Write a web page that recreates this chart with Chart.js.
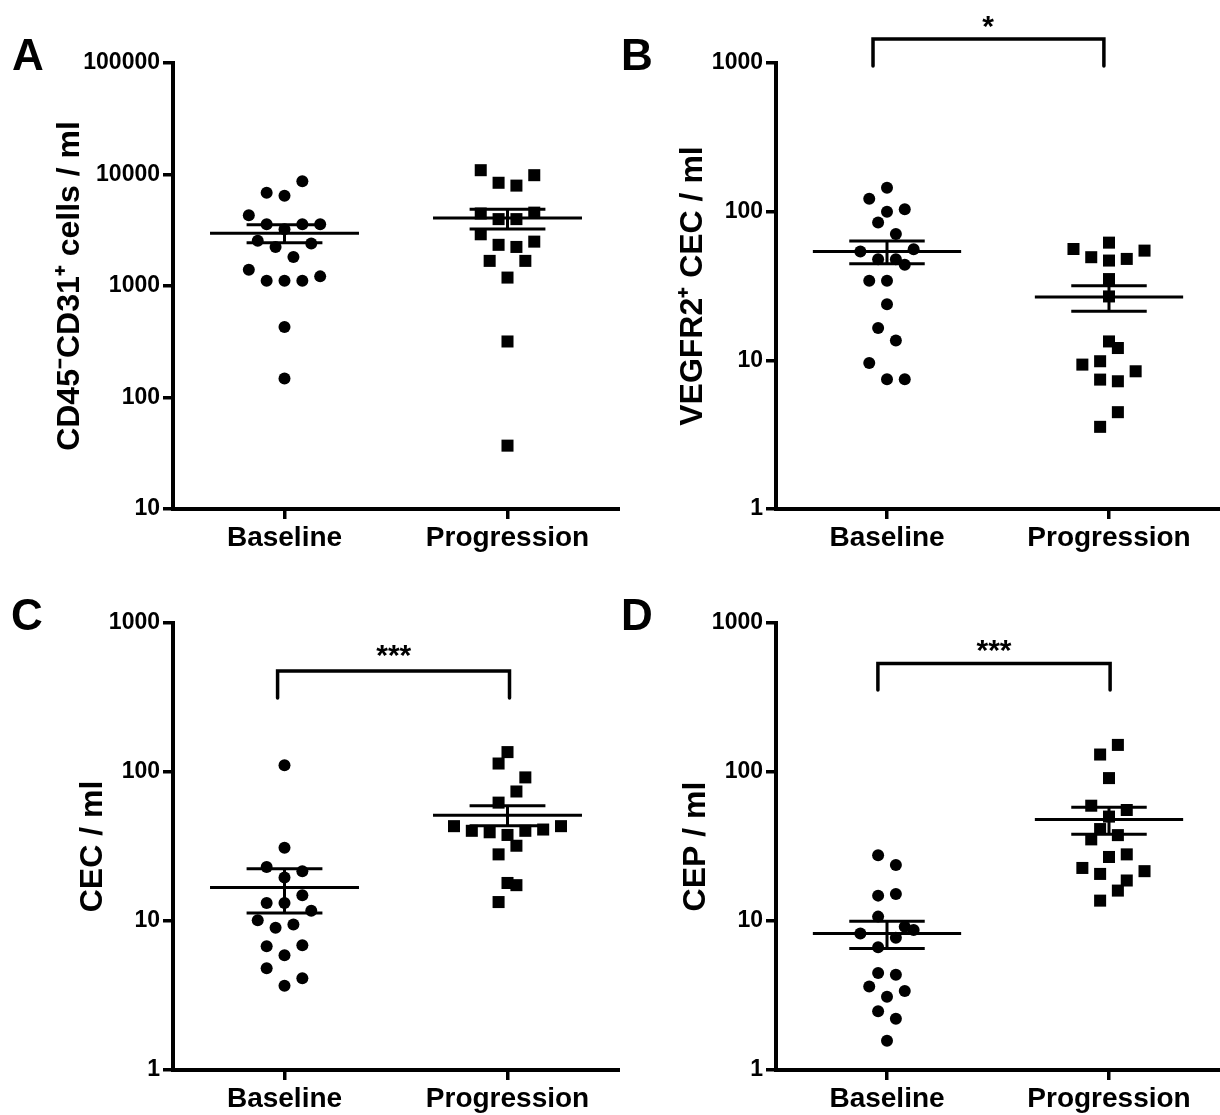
<!DOCTYPE html>
<html>
<head>
<meta charset="utf-8">
<script src="https://cdn.jsdelivr.net/npm/chart.js@4.4.1/dist/chart.umd.min.js"></script>
<style>
  body { margin: 0; background: #fff; width: 1220px; height: 1115px; position: relative; overflow: hidden; }
  canvas { position: absolute; }
</style>
</head>
<body>
<canvas id="pA" width="620" height="560" style="left:0;top:0"></canvas>
<canvas id="pB" width="610" height="560" style="left:610px;top:0"></canvas>
<canvas id="pC" width="620" height="555" style="left:0;top:560px"></canvas>
<canvas id="pD" width="610" height="555" style="left:610px;top:560px"></canvas>
<script>
const categories = ["Baseline", "Progression"];
const ticksA = [10, 100, 1000, 10000, 100000];
const ticksBCD = [1, 10, 100, 1000];

// panel A: CD45-CD31+ cells / ml
const aBaseline = [8710, 6860, 6450, 4310, 3580, 3230, 3580, 3580, 2540, 2400, 2240, 1820, 1400, 1220, 1115, 1115, 1115, 428, 148];
const aBaselineSlot = [1, -1, 0, -2, -1, 0, 1, 2, -1.5, 1.5, -0.5, 0.5, -2, 2, -1, 0, 1, 0, 0];
const aProgression = [10930, 9860, 8430, 7950, 4470, 4550, 3980, 3980, 2910, 2500, 2340, 2240, 1680, 1680, 1190, 318, 37];
const aProgressionSlot = [-1.5, 1.5, -0.5, 0.5, -1.5, 1.5, -0.5, 0.5, -1.5, 1.5, -0.5, 0.5, -1, 1, 0, 0, 0];
const aBaselineStats = [2975, 2440, 3550];     // mean, mean-SEM, mean+SEM
const aProgressionStats = [4070, 3250, 4890];

// panel B: VEGFR2+ CEC / ml
const bBaseline = [145, 122, 104, 100, 84.4, 70.8, 54.0, 55.9, 47.9, 47.9, 43.9, 34.3, 34.3, 23.8, 16.5, 13.6, 9.6, 7.45, 7.45];
const bBaselineSlot = [0, -1, 1, 0, -0.5, 0.5, -1.5, 1.5, -0.5, 0.5, 1, -1, 0, 0, -0.5, 0.5, -1, 0, 1];
const bProgression = [61.9, 56.1, 54.7, 49.4, 46.9, 48.1, 35.2, 26.9, 13.4, 12.1, 9.86, 9.36, 8.44, 7.42, 7.23, 4.48, 3.57];
const bProgressionSlot = [0, -2, 2, -1, 0, 1, 0, 0, 0, 0.5, -0.5, -1.5, 1.5, -0.5, 0.5, 0.5, -0.5];
const bBaselineStats = [54.0, 44.6, 63.5];
const bProgressionStats = [26.7, 21.4, 31.8];

// panel C: CEC / ml
const cBaseline = [111, 31.0, 23.0, 21.6, 19.6, 14.9, 13.2, 13.2, 11.7, 10.1, 9.02, 9.49, 6.78, 6.88, 5.89, 4.81, 4.13, 3.67];
const cBaselineSlot = [0, 0, -1, 1, 0, 1, -1, 0, 1.5, -1.5, -0.5, 0.5, -1, 1, 0, -1, 1, 0];
const cProgression = [136, 114, 92.0, 74.0, 62.3, 43.3, 43.3, 40.3, 39.4, 37.8, 40.3, 41.1, 32.0, 28.0, 18.0, 17.4, 13.4];
const cProgressionSlot = [0, -0.5, 1, 0.5, -0.5, -3, 3, -2, -1, 0, 1, 2, 0.5, -0.5, 0, 0.5, -0.5];
const cBaselineStats = [16.8, 11.3, 22.4];
const cProgressionStats = [51.2, 43.5, 59.4];

// panel D: CEP / ml
const dBaseline = [27.6, 23.8, 14.8, 15.2, 10.7, 9.16, 8.69, 8.25, 7.71, 6.67, 4.47, 4.35, 3.63, 3.39, 3.10, 2.48, 2.21, 1.57];
const dBaselineSlot = [-0.5, 0.5, -0.5, 0.5, -0.5, 1, 1.5, -1.5, 0.5, -0.5, -0.5, 0.5, -1, 1, 0, -0.5, 0.5, 0];
const dProgression = [152, 131, 91.0, 59.4, 55.6, 50.2, 41.4, 37.7, 35.3, 26.9, 28.0, 22.7, 20.7, 21.6, 18.7, 16.0, 13.7];
const dProgressionSlot = [0.5, -0.5, 0, -1, 1, 0, -0.5, 0.5, -1, 0, 1, -1.5, -0.5, 2, 1, 0.5, -0.5];
const dBaselineStats = [8.25, 6.53, 9.95];
const dProgressionStats = [48.0, 38.2, 57.9];

// significance brackets: [left x, right x], [leg end y, bar y], label y, label
const bBracket = { x: [0.937, 1.977], y: [955, 1449], labelX: 1.455, labelY: 1945, text: "*" };
const cBracket = { x: [0.969, 2.009], y: [314, 476], labelX: 1.49, labelY: 673, text: "***" };
const dBracket = { x: [0.959, 2.005], y: [355, 534], labelX: 1.482, labelY: 723, text: "***" };

const FONT = '"Liberation Sans", Arial, Helvetica, sans-serif';
const SLOT = 0.08;        // horizontal spacing of scattered points (x units)
const MEAN_HALF = 0.334;  // half width of mean line
const CAP_HALF = 0.17;    // half width of SEM caps

function points(values, slots, center) {
  return values.map((v, i) => ({ x: center + slots[i] * SLOT, y: v }));
}

function segment(data) {
  return {
    type: "line",
    data: data,
    borderColor: "#000",
    borderWidth: 3,
    pointRadius: 0,
    fill: false,
    clip: false,
  };
}

function errorBar(stats, center) {
  const [mean, lo, hi] = stats;
  return [
    segment([{ x: center - MEAN_HALF, y: mean }, { x: center + MEAN_HALF, y: mean }]),
    segment([{ x: center - CAP_HALF, y: hi }, { x: center + CAP_HALF, y: hi }]),
    segment([{ x: center - CAP_HALF, y: lo }, { x: center + CAP_HALF, y: lo }]),
    segment([{ x: center, y: lo }, { x: center, y: hi }]),
  ];
}

const decor = {
  id: "decor",
  afterDraw(chart, args, opts) {
    const { ctx } = chart;
    const x = chart.scales.x;
    const y = chart.scales.y;
    ctx.save();
    ctx.fillStyle = "#000";
    ctx.strokeStyle = "#000";
    ctx.font = "bold 44px " + FONT;
    ctx.textAlign = "left";
    ctx.textBaseline = "alphabetic";
    ctx.fillText(opts.letter, opts.letterX, 70);

    const br = opts.bracket;
    if (br) {
      const x1 = x.getPixelForValue(br.x[0]);
      const x2 = x.getPixelForValue(br.x[1]);
      const yLeg = y.getPixelForValue(br.y[0]);
      const yBar = y.getPixelForValue(br.y[1]);
      ctx.lineWidth = 3.5;
      ctx.lineJoin = "miter";
      ctx.lineCap = "round";
      ctx.beginPath();
      ctx.moveTo(x1, yLeg);
      ctx.lineTo(x1, yBar);
      ctx.lineTo(x2, yBar);
      ctx.lineTo(x2, yLeg);
      ctx.stroke();
      ctx.font = "bold 30px " + FONT;
      ctx.textAlign = "center";
      ctx.fillText(br.text, x.getPixelForValue(br.labelX), y.getPixelForValue(br.labelY) + 16);
    }
    ctx.restore();
  },
};

const panels = [
  { id: "pA", letter: "A", letterX: 12, title: "CD45\u207BCD31\u207A cells / ml", min: 10, max: 100000, ticks: ticksA,
    base: aBaseline, baseSlot: aBaselineSlot, prog: aProgression, progSlot: aProgressionSlot,
    baseStats: aBaselineStats, progStats: aProgressionStats, bracket: null,
    plotLeft: 173, plotRight: 619, plotBottom: 509, titleX: 70 },
  { id: "pB", letter: "B", letterX: 11, title: "VEGFR2\u207A CEC / ml", min: 1, max: 1000, ticks: ticksBCD,
    base: bBaseline, baseSlot: bBaselineSlot, prog: bProgression, progSlot: bProgressionSlot,
    baseStats: bBaselineStats, progStats: bProgressionStats, bracket: bBracket,
    plotLeft: 166, plotRight: 610, plotBottom: 509, titleX: 83 },
  { id: "pC", letter: "C", letterX: 11, title: "CEC / ml", min: 1, max: 1000, ticks: ticksBCD,
    base: cBaseline, baseSlot: cBaselineSlot, prog: cProgression, progSlot: cProgressionSlot,
    baseStats: cBaselineStats, progStats: cProgressionStats, bracket: cBracket,
    plotLeft: 173, plotRight: 619, plotBottom: 510, titleX: 93 },
  { id: "pD", letter: "D", letterX: 11, title: "CEP / ml", min: 1, max: 1000, ticks: ticksBCD,
    base: dBaseline, baseSlot: dBaselineSlot, prog: dProgression, progSlot: dProgressionSlot,
    baseStats: dBaselineStats, progStats: dProgressionStats, bracket: dBracket,
    plotLeft: 166, plotRight: 610, plotBottom: 510, titleX: 86 },
];

panels.forEach((p) => {
  const canvas = document.getElementById(p.id);
  const axisGrid = { display: true, drawOnChartArea: false, drawTicks: true, tickLength: 10, lineWidth: 3.5, color: "#000" };
  const axisBorder = { display: true, color: "#000", width: 4 };

  new Chart(canvas, {
    type: "scatter",
    data: {
      datasets: [
        ...errorBar(p.baseStats, 1),
        ...errorBar(p.progStats, 2),
        { type: "scatter", data: points(p.base, p.baseSlot, 1), pointStyle: "circle", pointRadius: 6,
          backgroundColor: "#000", borderWidth: 0, clip: false },
        { type: "scatter", data: points(p.prog, p.progSlot, 2), pointStyle: "rect", pointRadius: 8.5,
          backgroundColor: "#000", borderWidth: 0, clip: false },
      ],
    },
    options: {
      responsive: false,
      animation: false,
      devicePixelRatio: 1,
      layout: { autoPadding: false, padding: { left: 0, top: 63, right: canvas.width - p.plotRight, bottom: 0 } },
      plugins: {
        legend: { display: false },
        tooltip: { enabled: false },
        decor: { letter: p.letter, letterX: p.letterX, bracket: p.bracket },
      },
      scales: {
        x: {
          type: "linear",
          min: 0.5,
          max: 2.5,
          afterBuildTicks: (s) => { s.ticks = [{ value: 1 }, { value: 2 }]; },
          afterFit: (s) => { s.height = canvas.height - p.plotBottom; },
          border: axisBorder,
          grid: axisGrid,
          ticks: {
            color: "#000",
            font: { family: FONT, size: 28, weight: "bold" },
            padding: 2,
            maxRotation: 0,
            autoSkip: false,
            callback: (v) => categories[v - 1],
          },
        },
        y: {
          type: "logarithmic",
          min: p.min,
          max: p.max,
          afterBuildTicks: (s) => { s.ticks = p.ticks.map((v) => ({ value: v })); },
          afterFit: (s) => { s.width = p.plotLeft; },
          border: axisBorder,
          grid: axisGrid,
          ticks: {
            color: "#000",
            font: { family: FONT, size: 23, weight: "bold" },
            padding: 3,
            autoSkip: false,
            callback: (v) => String(v),
          },
          title: {
            display: true,
            text: p.title,
            color: "#000",
            font: { family: FONT, size: 32, weight: "bold", lineHeight: 1 },
            padding: { top: p.titleX - 16, bottom: 0 },
          },
        },
      },
    },
    plugins: [decor],
  });
});
</script>
</body>
</html>
